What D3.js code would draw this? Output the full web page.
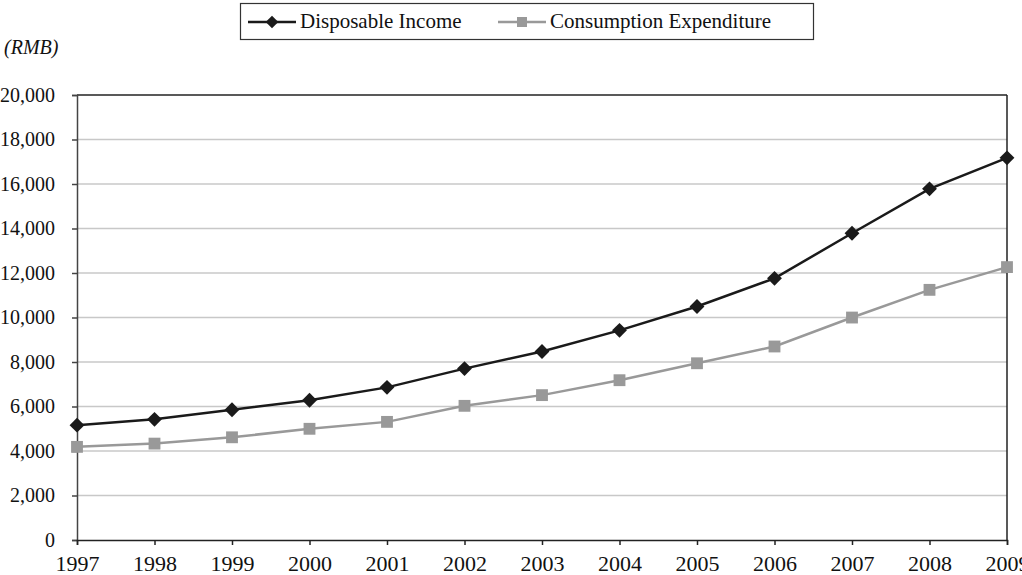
<!DOCTYPE html>
<html>
<head>
<meta charset="utf-8">
<script src="https://cdn.jsdelivr.net/npm/d3@7"></script>
<style>
  body { margin: 0; background: #fff; }
  svg { display: block; font-family: "Liberation Serif", "Times New Roman", serif; }
</style>
</head>
<body>
<svg id="chart" width="1022" height="575"></svg>
<script>
// Urban household income vs. spending, 1997–2009 (RMB per capita)
const years = [1997, 1998, 1999, 2000, 2001, 2002, 2003, 2004, 2005, 2006, 2007, 2008, 2009];
const disposableIncome = [5160, 5425, 5854, 6280, 6860, 7703, 8472, 9422, 10493, 11760, 13786, 15781, 17175];
const consumptionExpenditure = [4186, 4332, 4616, 4998, 5309, 6030, 6511, 7182, 7943, 8697, 9998, 11243, 12265];
const yTicks = [0, 2000, 4000, 6000, 8000, 10000, 12000, 14000, 16000, 18000, 20000];
const seriesNames = ["Disposable Income", "Consumption Expenditure"];

const svg = d3.select("#chart");
const m = { left: 77, right: 1007, top: 95, bottom: 540 };

const x = d3.scaleLinear().domain([1997, 2009]).range([m.left, m.right]);
const y = d3.scaleLinear().domain([0, 20000]).range([m.bottom, m.top]);

// horizontal gridlines
svg.append("g").selectAll("line")
  .data(yTicks.filter(t => t > 0 && t < 20000))
  .join("line")
  .attr("x1", m.left).attr("x2", m.right)
  .attr("y1", d => y(d)).attr("y2", d => y(d))
  .attr("stroke", "#c8c8c8").attr("stroke-width", 1.5);

// top and right frame
svg.append("line").attr("x1", m.left).attr("x2", m.right).attr("y1", m.top).attr("y2", m.top)
  .attr("stroke", "#222").attr("stroke-width", 1.5);
svg.append("line").attr("x1", m.right).attr("x2", m.right).attr("y1", m.top).attr("y2", m.bottom)
  .attr("stroke", "#222").attr("stroke-width", 1.5);

// y axis
const yAxis = d3.axisLeft(y).tickValues(yTicks).tickSize(5).tickPadding(17)
  .tickFormat(d3.format(","));
const gy = svg.append("g").attr("transform", `translate(${m.left},0)`).call(yAxis);
gy.select(".domain").attr("stroke", "#444").attr("stroke-width", 1.5);
gy.selectAll(".tick line").attr("stroke", "#444").attr("stroke-width", 1.5);
gy.selectAll("text").attr("font-size", 20).attr("fill", "#111")
  .attr("font-family", "Liberation Serif, serif");

// x axis
const xAxis = d3.axisBottom(x).tickValues(years).tickSize(5).tickPadding(10)
  .tickFormat(d3.format("d"));
const gx = svg.append("g").attr("transform", `translate(0,${m.bottom})`).call(xAxis);
gx.select(".domain").attr("stroke", "#222").attr("stroke-width", 1.5);
gx.selectAll(".tick line").attr("stroke", "#222").attr("stroke-width", 1.5);
gx.selectAll("text").attr("font-size", 22).attr("fill", "#111")
  .attr("font-family", "Liberation Serif, serif");

// unit label
svg.append("text").attr("x", 4).attr("y", 54).attr("font-size", 20)
  .attr("font-style", "italic").attr("fill", "#111").text("(RMB)");

const line = d3.line().x((d, i) => x(years[i])).y(d => y(d));
const diamond = d3.symbol().type(d3.symbolDiamond2).size(140);
const square = d3.symbol().type(d3.symbolSquare).size(140);

// consumption expenditure series
svg.append("path").datum(consumptionExpenditure).attr("d", line)
  .attr("fill", "none").attr("stroke", "#999").attr("stroke-width", 2.5);
svg.append("g").selectAll("path").data(consumptionExpenditure).join("path")
  .attr("transform", (d, i) => `translate(${x(years[i])},${y(d)})`)
  .attr("d", square).attr("fill", "#999");

// disposable income series
svg.append("path").datum(disposableIncome).attr("d", line)
  .attr("fill", "none").attr("stroke", "#1a1a1a").attr("stroke-width", 2.5);
svg.append("g").selectAll("path").data(disposableIncome).join("path")
  .attr("transform", (d, i) => `translate(${x(years[i])},${y(d)})`)
  .attr("d", diamond).attr("fill", "#1a1a1a");

// legend
const lg = svg.append("g");
lg.append("rect").attr("x", 240.5).attr("y", 3.5).attr("width", 573).attr("height", 36)
  .attr("fill", "#fff").attr("stroke", "#333").attr("stroke-width", 1.2);
const legendItems = [
  { name: seriesNames[0], x0: 248, color: "#1a1a1a", sym: diamond },
  { name: seriesNames[1], x0: 498, color: "#999", sym: square }
];
legendItems.forEach(it => {
  lg.append("line").attr("x1", it.x0).attr("x2", it.x0 + 48).attr("y1", 22).attr("y2", 22)
    .attr("stroke", it.color).attr("stroke-width", 2.5);
  lg.append("path").attr("transform", `translate(${it.x0 + 24},22)`).attr("d", it.sym)
    .attr("fill", it.color).attr("transform", `translate(${it.x0 + 24},22) scale(0.85)`);
  lg.append("text").attr("x", it.x0 + 52).attr("y", 28).attr("font-size", 21)
    .attr("fill", "#111").text(it.name);
});
</script>
</body>
</html>
